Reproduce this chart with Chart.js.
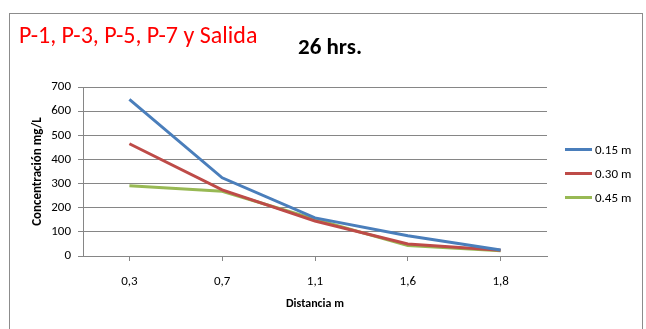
<!DOCTYPE html>
<html>
<head>
<meta charset="utf-8">
<script src="https://cdn.jsdelivr.net/npm/chart.js@4"></script>
<style>
  body { margin: 0; background: #fff; }
  #wrap { position: relative; width: 646px; height: 329px; overflow: hidden; font-family: Carlito, Lato, sans-serif; }
  #frame { position: absolute; left: 9px; top: 13px; width: 632px; height: 330px; border: 1px solid #8c8c8c; }
  #canvas { position: absolute; left: 0; top: 0; }
  #t1 { position: absolute; left: 19px; top: 20px; font-size: 24px; color: #ff0000; white-space: nowrap; }
  #t2 { position: absolute; left: 298px; top: 32px; font-size: 23px; font-weight: bold; color: #000; white-space: nowrap; }
  #legend { position: absolute; left: 565px; top: 137px; font-size: 13px; }
  .item { height: 24px; display: flex; align-items: center; }
  .sw { width: 27px; height: 3px; margin-right: 3px; }
</style>
</head>
<body>
<div id="wrap">
  <div id="frame"></div>
  <canvas id="canvas" width="646" height="329"></canvas>
  <div id="t1">P-1, P-3, P-5, P-7 y Salida</div>
  <div id="t2">26 hrs.</div>
  <div id="legend"></div>
</div>
<script>
"use strict";

var distancias = ['0,3', '0,7', '1,1', '1,6', '1,8'];
var serieLabels = ['0.15 m', '0.30 m', '0.45 m'];
var serie015 = [649, 324, 158, 84, 25];
var serie030 = [465, 274, 145, 50, 24];
var serie045 = [291, 268, 152, 43, 22];
var colores = ['#4a7ebb', '#be4b48', '#98b954'];

var fuente = 'Carlito, Lato, sans-serif';

window.onload = function() {
  var ctx = document.getElementById('canvas').getContext('2d');
  var valores = [serie015, serie030, serie045];

  window.myLine = new Chart(ctx, {
    type: 'line',
    data: {
      labels: distancias,
      datasets: valores.map(function(v, i) {
        return {
          label: serieLabels[i],
          data: v,
          borderColor: colores[i],
          backgroundColor: colores[i],
          borderWidth: 3,
          pointRadius: 0,
          tension: 0,
          fill: false
        };
      })
    },
    options: {
      responsive: false,
      animation: false,
      layout: { padding: { top: 87, left: 0, right: 99, bottom: 0 } },
      plugins: {
        legend: { display: false },
        title: { display: false },
        tooltip: { enabled: false }
      },
      scales: {
        x: {
          offset: true,
          grid: {
            display: true,
            drawOnChartArea: false,
            drawTicks: true,
            tickLength: 5,
            color: '#868686'
          },
          border: { color: '#868686' },
          ticks: { color: '#000', padding: 13, font: { family: fuente, size: 13 } },
          title: {
            display: true,
            text: 'Distancia m',
            color: '#000',
            font: { family: fuente, size: 12, weight: 'bold' },
            padding: { top: 0, bottom: 18 }
          },
          afterFit: function(scale) { scale.height = 73; }
        },
        y: {
          min: 0,
          max: 700,
          grid: { color: '#868686', tickLength: 5 },
          border: { color: '#868686' },
          ticks: { stepSize: 100, color: '#000', padding: 7, font: { family: fuente, size: 13 } },
          title: {
            display: true,
            text: 'Concentración mg/L',
            color: '#000',
            font: { family: fuente, size: 13, weight: 'bold' },
            padding: { top: 30, bottom: 0 }
          },
          afterFit: function(scale) { scale.width = 83; }
        }
      }
    }
  });

  var leg = document.getElementById('legend');
  serieLabels.forEach(function(l, i) {
    var d = document.createElement('div');
    d.className = 'item';
    d.innerHTML = '<span class="sw" style="background:' + colores[i] + '"></span>' + l;
    leg.appendChild(d);
  });
};
</script>
</body>
</html>
